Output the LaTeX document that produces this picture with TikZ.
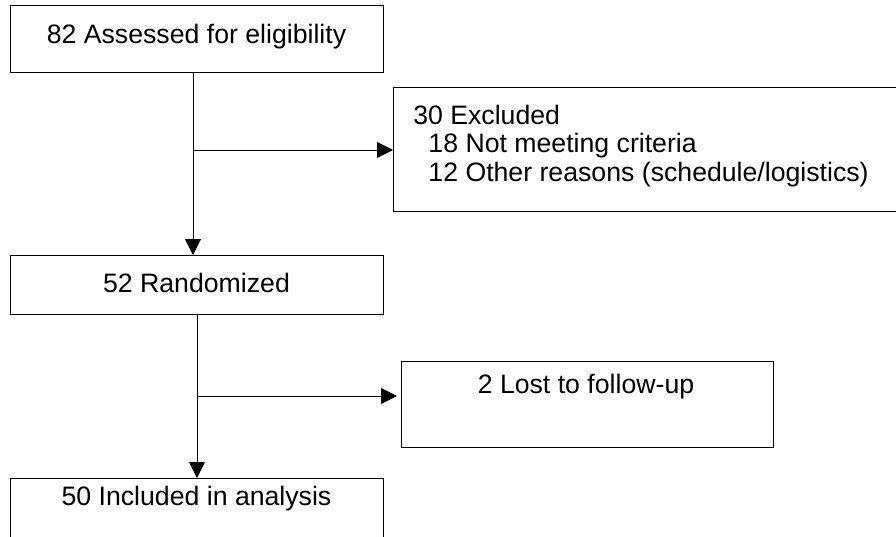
\documentclass[tikz,border=0pt]{standalone}
\usepackage{fontspec}
\setmainfont{Liberation Sans}
\usepackage{tikz}
\usetikzlibrary{calc, positioning, arrows.meta}

\tikzset{
  box/.style={draw, line width=0.75pt, rectangle, inner sep=0pt, anchor=north west},
  txt/.style={inner sep=0pt, font=\fontsize{20}{21.4}\selectfont},
  arr/.style={draw, line width=0.75pt, -{Triangle[length=12pt, width=12pt]}}
}

\begin{document}
\begin{tikzpicture}[x=0.75pt, y=-0.75pt]

\useasboundingbox (0,0) rectangle (896,536);
\clip (0,0) rectangle (896,536);

% Boxes
\node[box, minimum width=279.75pt, minimum height=50.25pt] (assess) at (10,5) {};
\node[box, minimum width=382.5pt, minimum height=93pt] (excl) at (393,87) {};
\node[box, minimum width=279.75pt, minimum height=44.25pt] (random) at (10,255) {};
\node[box, minimum width=279pt, minimum height=64.5pt] (lost) at (401,361) {};
\node[box, minimum width=279.75pt, minimum height=52.5pt] (incl) at (10,478) {};

% Texts
\node[txt, anchor=base] (tassess) at (196.5,43) {82 Assessed for eligibility};
\node[txt, anchor=north west, align=left] (texcl) at (413,104.5) {30 Excluded\\
  \hspace*{0.57em}18 Not meeting criteria\\
  \hspace*{0.57em}12 Other reasons (schedule/logistics)};
\node[txt, anchor=base] (trandom) at (196.5,292) {52 Randomized};
\node[txt, anchor=base] (tlost) at (586,393) {2 Lost to follow-up};
\node[txt, anchor=base] (tincl) at (196.5,505) {50 Included in analysis};

% Junctions
\coordinate (j1) at (193,150);
\coordinate (j2) at (197,396);

% Connectors
\draw[arr] (assess.south -| j1) -- (random.north -| j1);
\draw[arr] (j1) -- (excl.west |- j1);
\draw[arr] (random.south -| j2) -- (incl.north -| j2);
\draw[arr, shorten >=3pt] (j2) -- (lost.west |- j2);

\end{tikzpicture}
\end{document}
